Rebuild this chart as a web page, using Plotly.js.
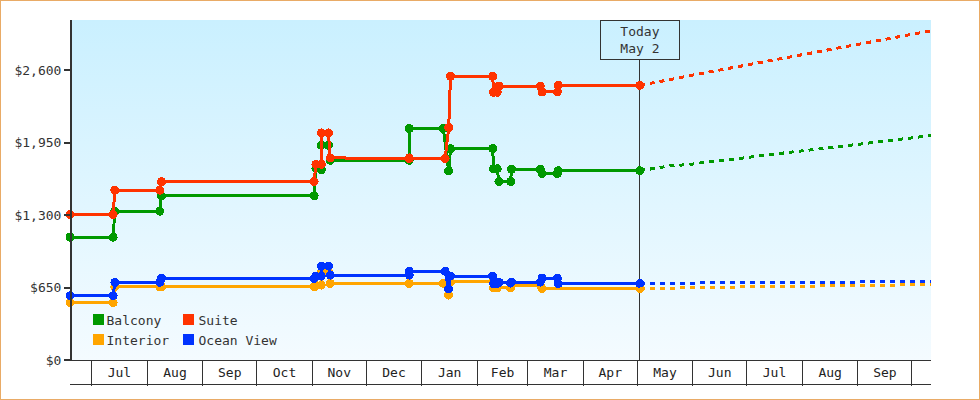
<!DOCTYPE html>
<html>
<head>
<meta charset="utf-8">
<script src="https://cdn.plot.ly/plotly-3.0.1.min.js"></script>
<style>
html,body{margin:0;padding:0;background:#fff;}
#frame{position:relative;width:980px;height:400px;box-sizing:border-box;overflow:hidden;background:#fff;}
#border{position:absolute;left:0;top:0;width:980px;height:400px;box-sizing:border-box;border:1px solid #e9ab66;pointer-events:none;}
#chart{position:absolute;left:0;top:0;width:980px;height:400px;
 background-image:linear-gradient(180deg,#caf0ff 0%,#f4fbff 100%);
 background-size:859px 340px;background-position:72px 20px;background-repeat:no-repeat;}
#chart svg path,#chart svg rect{shape-rendering:crispEdges;}
#chart .legendtext{transform:translateX(-12px);}
#chart .legend2text{transform:translateX(-10px);}
</style>
</head>
<body>
<div id="frame"><div id="chart"></div><div id="border"></div></div>
<script>
var FONT = '"DejaVu Sans Mono", monospace';
var INK = '#333333';

var seriesNames = ['Balcony', 'Suite', 'Interior', 'Ocean View'];
var balconyColor = '#009900', suiteColor = '#ff3300', interiorColor = '#ffa500', oceanColor = '#0033ff';

var todayDate = '2018-05-02 12:00';
var todayLabel = 'Today<br>May 2';

var balconyDates = ['2017-06-19','2017-07-13','2017-07-14','2017-08-08','2017-08-09','2017-11-02','2017-11-03','2017-11-06','2017-11-06','2017-11-10','2017-11-11','2017-12-25','2017-12-25','2018-01-13','2018-01-16','2018-01-17','2018-02-09 12:00','2018-02-10','2018-02-12','2018-02-13','2018-02-19 12:00','2018-02-20','2018-03-08','2018-03-09','2018-03-17 12:00','2018-03-18','2018-05-02 12:00'];
var balconyPrices = [1103,1103,1336,1336,1473,1473,1721,1708,1928,1928,1793,1793,2078,2078,1697,1898,1898,1717,1717,1602,1602,1712,1712,1674,1674,1699,1699];

var suiteDates = ['2017-06-19','2017-07-13','2017-07-14','2017-08-08','2017-08-09','2017-11-02','2017-11-03','2017-11-06','2017-11-06','2017-11-10','2017-11-11','2017-12-25','2017-12-25','2018-01-14','2018-01-16','2018-01-17','2018-02-09 12:00','2018-02-10','2018-02-12','2018-02-13','2018-03-08','2018-03-09','2018-03-17 12:00','2018-03-18','2018-05-02 12:00'];
var suitePrices = [1305,1305,1524,1524,1601,1601,1757,1757,2038,2038,1814,1814,1808,1808,2086,2546,2546,2403,2403,2459,2459,2406,2406,2466,2466];

var interiorDates = ['2017-06-19','2017-07-13','2017-07-14','2017-08-08','2017-08-09','2017-11-02','2017-11-03','2017-11-06','2017-11-06','2017-11-10','2017-11-11','2017-12-25','2018-01-13','2018-01-16','2018-01-17','2018-02-09 12:00','2018-02-10','2018-02-12','2018-02-19 12:00','2018-02-20','2018-03-08','2018-03-09','2018-05-02 12:00'];
var interiorPrices = [514,514,657,657,657,657,668,672,789,789,688,688,688,583,704,704,648,646,648,672,672,643,643];

var oceanDates = ['2017-06-19','2017-07-13','2017-07-14','2017-08-08','2017-08-09','2017-11-02','2017-11-03','2017-11-06','2017-11-06','2017-11-10','2017-11-11','2017-12-25','2017-12-25','2018-01-14','2018-01-16','2018-01-17','2018-02-09 12:00','2018-02-10','2018-02-12','2018-02-13','2018-02-19 12:00','2018-02-20','2018-03-08','2018-03-09','2018-03-17 12:00','2018-03-18','2018-05-02 12:00'];
var oceanPrices = [577,577,697,697,733,733,753,753,843,843,762,762,798,798,637,753,753,686,686,699,690,699,699,735,735,686,686];

var forecastDates = ['2018-05-02 12:00','2018-05-08','2018-05-19','2018-05-30','2018-06-11','2018-06-22','2018-07-03','2018-07-14','2018-07-25','2018-08-06','2018-08-17','2018-08-28','2018-09-08','2018-09-20','2018-10-01','2018-10-12'];
var balconyForecast = [1699,1712,1742,1755,1782,1799,1823,1844,1865,1886,1907,1930,1952,1970,1997,2015];
var suiteForecast = [2466,2481,2516,2552,2588,2621,2654,2687,2720,2755,2788,2824,2857,2890,2926,2956];
var interiorForecast = [643,643,643,652,652,652,661,661,661,661,672,672,672,672,679,679];
var oceanForecast = [686,688,688,688,697,697,697,697,697,697,697,697,706,706,706,706];

var priceTicks = [0,650,1300,1950,2600];
var priceTickText = ['$0','$650','$1,300','$1,950','$2,600'];
var dateRange = ['2017-06-19 00:00','2018-10-11 17:00'];
var priceRange = [0,3052];

function actual(name, dates, prices, color) {
  return {x:dates, y:prices, name:name, type:'scatter', mode:'lines+markers', showlegend:false, cliponaxis:false,
    line:{color:color,width:3}, marker:{color:color,size:9,symbol:'circle'}, hoverinfo:'x+y+name'};
}
function forecast(name, prices, color) {
  return {x:forecastDates, y:prices, name:name+' forecast', xaxis:'x2', type:'scatter', mode:'lines', showlegend:false,
    line:{color:color,width:3,dash:'5px,5px'}, hoverinfo:'x+y+name'};
}
function swatch(name, color, legendId) {
  return {x:[null], y:[null], name:name, type:'scatter', mode:'markers', legend:legendId, showlegend:true,
    marker:{color:color,size:11,symbol:'square'}, hoverinfo:'skip'};
}

var traces = [
  forecast(seriesNames[0], balconyForecast, balconyColor),
  forecast(seriesNames[1], suiteForecast, suiteColor),
  forecast(seriesNames[2], interiorForecast, interiorColor),
  forecast(seriesNames[3], oceanForecast, oceanColor),
  actual(seriesNames[0], balconyDates, balconyPrices, balconyColor),
  actual(seriesNames[1], suiteDates, suitePrices, suiteColor),
  actual(seriesNames[2], interiorDates, interiorPrices, interiorColor),
  actual(seriesNames[3], oceanDates, oceanPrices, oceanColor),
  swatch(seriesNames[0], balconyColor, 'legend'),
  swatch(seriesNames[2], interiorColor, 'legend'),
  swatch(seriesNames[1], suiteColor, 'legend2'),
  swatch(seriesNames[3], oceanColor, 'legend2')
];

var legendBase = {
  xanchor:'left', yanchor:'top', y:0.162, bgcolor:'rgba(0,0,0,0)', borderwidth:0,
  font:{family:FONT,size:13,color:INK}, traceorder:'normal', itemclick:false, itemdoubleclick:false
};

var layout = {
  width:980, height:400, autosize:false,
  margin:{l:70,r:49,t:20,b:40,pad:0},
  paper_bgcolor:'rgba(0,0,0,0)', plot_bgcolor:'rgba(0,0,0,0)',
  font:{family:FONT,size:13,color:INK},
  showlegend:true,
  legend:Object.assign({x:0.00987}, legendBase),
  legend2:Object.assign({x:0.1144}, legendBase),
  xaxis:{type:'date', range:dateRange, dtick:'M1', tick0:'2017-07-01', tickformat:'%b', ticklabelmode:'period',
    ticks:'', showgrid:false, zeroline:false, showline:true, linecolor:INK, linewidth:1,
    tickfont:{family:FONT,size:13,color:'#222222'}, fixedrange:true},
  xaxis2:{type:'date', range:dateRange, overlaying:'x', anchor:'y', side:'bottom', dtick:'M1', tick0:'2017-07-01',
    ticks:'outside', ticklen:25, tickwidth:1, tickcolor:INK, showticklabels:false, showgrid:false, zeroline:false, fixedrange:true},
  yaxis:{range:priceRange, anchor:'free', position:0.00116, tickvals:priceTicks, ticktext:priceTickText, ticks:'outside', ticklen:6, tickwidth:2, tickcolor:INK,
    showgrid:false, zeroline:false, showline:true, linecolor:INK, linewidth:2,
    tickfont:{family:FONT,size:13,color:INK}, fixedrange:true},
  shapes:[
    {type:'line', xref:'x', yref:'paper', x0:todayDate, x1:todayDate, y0:0, y1:0.882, line:{color:INK,width:1}, layer:'below'},
    {type:'line', xref:'paper', yref:'paper', x0:0, x1:1, y0:-0.0735, y1:-0.0735, line:{color:INK,width:1}}
  ],
  annotations:[
    {xref:'x', yref:'paper', x:todayDate, y:1, xanchor:'center', yanchor:'top', text:todayLabel, showarrow:false,
     width:78, height:38, align:'center', valign:'middle', bordercolor:INK, borderwidth:1, borderpad:0, bgcolor:'rgba(0,0,0,0)',
     font:{family:FONT,size:13,color:INK}}
  ]
};

Plotly.newPlot('chart', traces, layout, {displayModeBar:false, responsive:false});
</script>
</body>
</html>
